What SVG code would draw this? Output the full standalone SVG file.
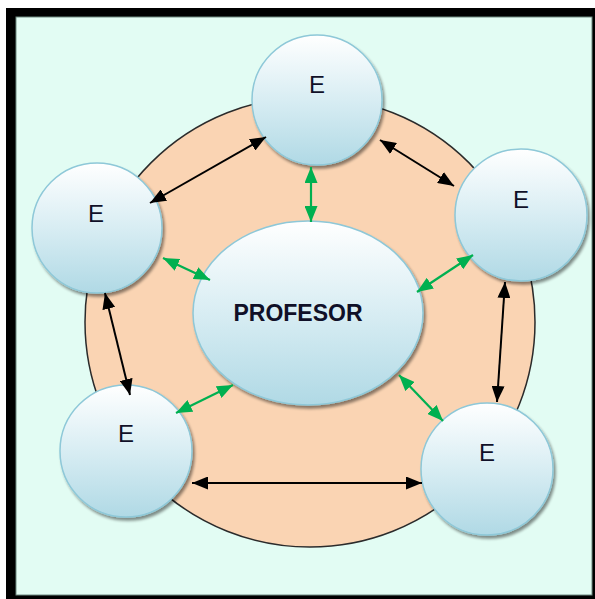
<svg xmlns="http://www.w3.org/2000/svg" width="595" height="599" viewBox="0 0 595 599">
  <defs>
    <linearGradient id="bubble" x1="0" y1="0" x2="0" y2="1">
      <stop offset="0" stop-color="#ffffff"/>
      <stop offset="0.5" stop-color="#d8edf3"/>
      <stop offset="1" stop-color="#b0d9e5"/>
    </linearGradient>
    <filter id="shadow" x="-20%" y="-20%" width="150%" height="150%">
      <feGaussianBlur in="SourceAlpha" stdDeviation="1.5"/>
      <feOffset dx="2" dy="3" result="b"/>
      <feComponentTransfer><feFuncA type="linear" slope="0.45"/></feComponentTransfer>
      <feMerge><feMergeNode/><feMergeNode in="SourceGraphic"/></feMerge>
    </filter>
    <marker id="blackHead" viewBox="0 0 16 13" refX="16" refY="6.5" markerWidth="16" markerHeight="13" markerUnits="userSpaceOnUse" orient="auto-start-reverse">
      <path d="M0,0 L16,6.5 L0,13 Z" fill="#000"/>
    </marker>
    <marker id="greenHead" viewBox="0 0 16 13" refX="16" refY="6.5" markerWidth="16" markerHeight="13" markerUnits="userSpaceOnUse" orient="auto-start-reverse">
      <path d="M0,0 L16,6.5 L0,13 Z" fill="#00b050"/>
    </marker>
    <style>
      .node { fill: url(#bubble); stroke: #8ec8d8; stroke-width: 1.5; filter: url(#shadow); }
      .lbl { font-family: "Liberation Sans", Arial, sans-serif; font-size: 24px; fill: #101028; text-anchor: middle; }
      .big { font-weight: bold; font-size: 23px; }
      .blk { stroke: #000; stroke-width: 2; fill: none; marker-start: url(#blackHead); marker-end: url(#blackHead); }
      .grn { stroke: #00b050; stroke-width: 2.2; fill: none; marker-start: url(#greenHead); marker-end: url(#greenHead); }
    </style>
  </defs>

  <!-- frame -->
  <rect x="6" y="8" width="589" height="591" fill="#000"/>
  <rect x="16" y="17" width="576" height="578" fill="#e2fcf3" stroke="#6f8a80" stroke-width="1"/>

  <!-- ring behind the nodes -->
  <circle cx="310" cy="322" r="225" fill="#fad4b3" stroke="#2b2b2b" stroke-width="1.5"/>

  <g id="profesor">
    <ellipse class="node" cx="308" cy="313" rx="115" ry="92"/>
    <text class="lbl big" x="298" y="321">PROFESOR</text>
  </g>
  <g id="e-top">
    <circle class="node" cx="317" cy="100" r="65"/>
    <text class="lbl" x="317" y="93">E</text>
  </g>
  <g id="e-left">
    <circle class="node" cx="97" cy="228" r="65"/>
    <text class="lbl" x="96" y="222">E</text>
  </g>
  <g id="e-right">
    <circle class="node" cx="521" cy="215" r="66"/>
    <text class="lbl" x="521" y="208">E</text>
  </g>
  <g id="e-bottom-left">
    <circle class="node" cx="126" cy="451" r="66"/>
    <text class="lbl" x="126" y="442">E</text>
  </g>
  <g id="e-bottom-right">
    <circle class="node" cx="487" cy="469" r="66"/>
    <text class="lbl" x="487" y="461">E</text>
  </g>

  <!-- two-way links, drawn over the bubbles -->
  <g id="connectors">
    <line class="blk" x1="150" y1="203" x2="266" y2="137"/>
    <line class="blk" x1="380" y1="140" x2="454" y2="186"/>
    <line class="blk" x1="505" y1="282" x2="497" y2="402"/>
    <line class="blk" x1="105" y1="293" x2="130" y2="395"/>
    <line class="blk" x1="192" y1="483" x2="422" y2="483"/>

    <line class="grn" x1="311" y1="167" x2="311" y2="222"/>
    <line class="grn" x1="163" y1="258" x2="210" y2="280"/>
    <line class="grn" x1="473" y1="255" x2="417" y2="292"/>
    <line class="grn" x1="176" y1="413" x2="233" y2="385"/>
    <line class="grn" x1="443" y1="421" x2="399" y2="375"/>
  </g>
</svg>
